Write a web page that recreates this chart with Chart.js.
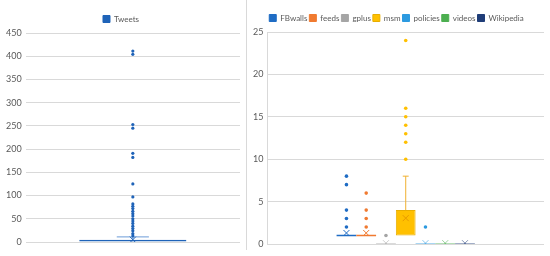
<!DOCTYPE html>
<html>
<head>
<meta charset="utf-8">
<script src="https://cdn.jsdelivr.net/npm/chart.js@4/dist/chart.umd.min.js"></script>
<style>
  body { margin: 0; background: #fff; }
  #wrap { position: relative; width: 550px; height: 256px; overflow: hidden; }
  #left { position: absolute; left: 0; top: 0; }
  #right { position: absolute; left: 247px; top: 0; }
  #divider { position: absolute; left: 246px; top: 0; width: 1px; height: 250px; background: #d9d9d9; }
</style>
</head>
<body>
<div id="wrap">
  <canvas id="left" width="246" height="256"></canvas>
  <div id="divider"></div>
  <canvas id="right" width="303" height="256"></canvas>
</div>
<script>
'use strict';

// ===== data: left chart (Tweets) =====
var tweetLabels = [''];
var tweetNames = ['Tweets'];
var tweetQ1 = [1];
var tweetMedian = [2];
var tweetQ3 = [5];
var tweetLow = [0];
var tweetHigh = [11];
var tweetMean = [5];
var tweetOutliers = [[411, 404, 253, 245, 191, 182, 125, 97, 82, 77, 72, 66, 61, 56, 50, 45, 40, 34, 29, 24, 18, 13]];
var tweetTicks = [0, 50, 100, 150, 200, 250, 300, 350, 400, 450];

// ===== data: right chart (sources) =====
var srcLabels = [''];
var srcNames = ['FBwalls', 'feeds', 'gplus', 'msm', 'policies', 'videos', 'Wikipedia'];
var srcQ1 = [1, 1, 0, 1, 0, 0, 0];
var srcMedian = [1, 1, 0, 1, 0, 0, 0];
var srcQ3 = [1, 1, 0, 4, 0, 0, 0];
var srcLow = [1, 1, 0, 1, 0, 0, 0];
var srcHigh = [1, 1, 0, 8, 0, 0, 0];
var srcMean = [1.3, 1.3, 0.1, 3.05, 0.1, 0.1, 0.1];
var srcOutliers = [
    [8, 7, 4, 3, 2],
    [6, 4, 3, 2],
    [1],
    [24, 16, 15, 14, 13, 12, 10],
    [2],
    [],
    []
];
var srcTicks = [0, 5, 10, 15, 20, 25];

var tweetColors = ['#1f63b8'];
var srcColors = ['#1f6cc4', '#f07a30', '#a5a5a5', '#ffc000', '#2c9ae0', '#4caf50', '#1f3d78'];

var fontFam = 'Lato, "Open Sans", sans-serif';

// box plot extras: whiskers, medians, means, outliers, drawn through the scales
var boxPlugin = {
    id: 'boxExtras',
    afterDatasetsDraw: function (chart) {
        var st = chart.config.options.plugins.boxExtras;
        var ctx = chart.ctx;
        var y = chart.scales.y;
        var area = chart.chartArea;
        ctx.save();
        ctx.beginPath();
        ctx.rect(area.left, area.top - 6, area.right - area.left, area.bottom - area.top + 6);
        ctx.clip();
        for (var i = 0; i < chart.data.datasets.length; i++) {
            var bar = chart.getDatasetMeta(i).data[0];
            var x = bar.x;
            var w = bar.width;
            var col = st.colors[i];
            var cap = w * 0.3;
            ctx.strokeStyle = st.whiskerColors ? st.whiskerColors[i] : col;
            ctx.lineWidth = 1;
            // upper whisker
            if (st.high[i] > st.q3[i]) {
                ctx.beginPath();
                ctx.moveTo(x, y.getPixelForValue(st.q3[i]));
                ctx.lineTo(x, y.getPixelForValue(st.high[i]));
                ctx.moveTo(x - cap / 2, y.getPixelForValue(st.high[i]));
                ctx.lineTo(x + cap / 2, y.getPixelForValue(st.high[i]));
                ctx.stroke();
            }
            if (st.low[i] < st.q1[i]) {
                ctx.beginPath();
                ctx.moveTo(x, y.getPixelForValue(st.q1[i]));
                ctx.lineTo(x, y.getPixelForValue(st.low[i]));
                ctx.stroke();
            }
            // flat box -> draw as a line
            if (st.q3[i] === st.q1[i]) {
                ctx.strokeStyle = col;
                ctx.lineWidth = 1.5;
                ctx.globalAlpha = st.q1[i] === 0 ? 0.55 : 1;
                ctx.beginPath();
                ctx.moveTo(x - w / 2, y.getPixelForValue(st.q1[i]));
                ctx.lineTo(x + w / 2, y.getPixelForValue(st.q1[i]));
                ctx.stroke();
                ctx.globalAlpha = 1;
            }
            // mean marker
            var my = y.getPixelForValue(st.mean[i]);
            ctx.strokeStyle = st.meanColors ? st.meanColors[i] : col;
            ctx.lineWidth = 1;
            ctx.globalAlpha = st.mean[i] < 0.5 ? 0.55 : 1;
            ctx.beginPath();
            ctx.moveTo(x - 3, my - 3);
            ctx.lineTo(x + 3, my + 3);
            ctx.moveTo(x + 3, my - 3);
            ctx.lineTo(x - 3, my + 3);
            ctx.stroke();
            ctx.globalAlpha = 1;
            // outliers
            ctx.fillStyle = col;
            var outs = st.outliers[i];
            for (var k = 0; k < outs.length; k++) {
                ctx.beginPath();
                ctx.arc(x, y.getPixelForValue(outs[k]), st.dot, 0, Math.PI * 2);
                ctx.fill();
            }
        }
        ctx.restore();
    }
};

function makeSets(names, q1, q3, colors, borders) {
    var sets = [];
    for (var i = 0; i < names.length; i++) {
        sets.push({
            label: names[i],
            data: [[q1[i], q3[i]]],
            backgroundColor: colors[i],
            borderColor: borders[i],
            borderWidth: 1,
            borderSkipped: false,
            categoryPercentage: 0.5,
            barPercentage: 1.0
        });
    }
    return sets;
}

function makeOptions(ticks, padding, axisLine, extras, legendPad, legendFont) {
    return {
        responsive: false,
        animation: false,
        layout: { padding: padding },
        plugins: {
            legend: {
                position: 'top',
                labels: {
                    boxWidth: 7,
                    boxHeight: 7,
                    padding: legendPad,
                    color: '#595959',
                    font: { family: fontFam, size: legendFont }
                }
            },
            tooltip: { enabled: false },
            boxExtras: extras
        },
        scales: {
            x: {
                ticks: { display: false },
                grid: { display: false },
                border: { display: false }
            },
            y: {
                min: ticks[0],
                max: ticks[ticks.length - 1],
                afterBuildTicks: function (axis) {
                    axis.ticks = ticks.map(function (v) { return { value: v }; });
                },
                ticks: {
                    color: '#595959',
                    padding: 4,
                    font: { family: fontFam, size: 9 }
                },
                grid: { color: '#d9d9d9', drawTicks: false },
                border: { display: axisLine, color: '#d9d9d9' }
            }
        }
    };
}

new Chart(document.getElementById('left').getContext('2d'), {
    type: 'bar',
    data: {
        labels: tweetLabels,
        datasets: makeSets(tweetNames, tweetQ1, tweetQ3, tweetColors, tweetColors)
    },
    options: makeOptions(tweetTicks, { top: 7, right: 6, bottom: 6, left: 2 }, false, {
        colors: tweetColors,
        whiskerColors: ['#6b9bd8'],
        q1: tweetQ1, q3: tweetQ3, low: tweetLow, high: tweetHigh,
        mean: tweetMean, outliers: tweetOutliers, dot: 1.6
    }, 8, 8),
    plugins: [boxPlugin]
});

var srcBorders = ['#1f6cc4', '#f07a30', '#a5a5a5', '#e8ae00', '#2c9ae0', '#4caf50', '#1f3d78'];

new Chart(document.getElementById('right').getContext('2d'), {
    type: 'bar',
    data: {
        labels: srcLabels,
        datasets: makeSets(srcNames, srcQ1, srcQ3, srcColors, srcBorders)
    },
    options: makeOptions(srcTicks, { top: 12, right: 6, bottom: 4, left: 2 }, true, {
        colors: srcColors,
        whiskerColors: ['#1f6cc4', '#f07a30', '#a5a5a5', '#f0b030', '#2c9ae0', '#4caf50', '#1f3d78'],
        meanColors: ['#1f6cc4', '#f07a30', '#a5a5a5', '#e89a00', '#2c9ae0', '#4caf50', '#1f3d78'],
        q1: srcQ1, q3: srcQ3, low: srcLow, high: srcHigh,
        mean: srcMean, outliers: srcOutliers, dot: 1.8
    }, 2, 8),
    plugins: [boxPlugin]
});
</script>
</body>
</html>
